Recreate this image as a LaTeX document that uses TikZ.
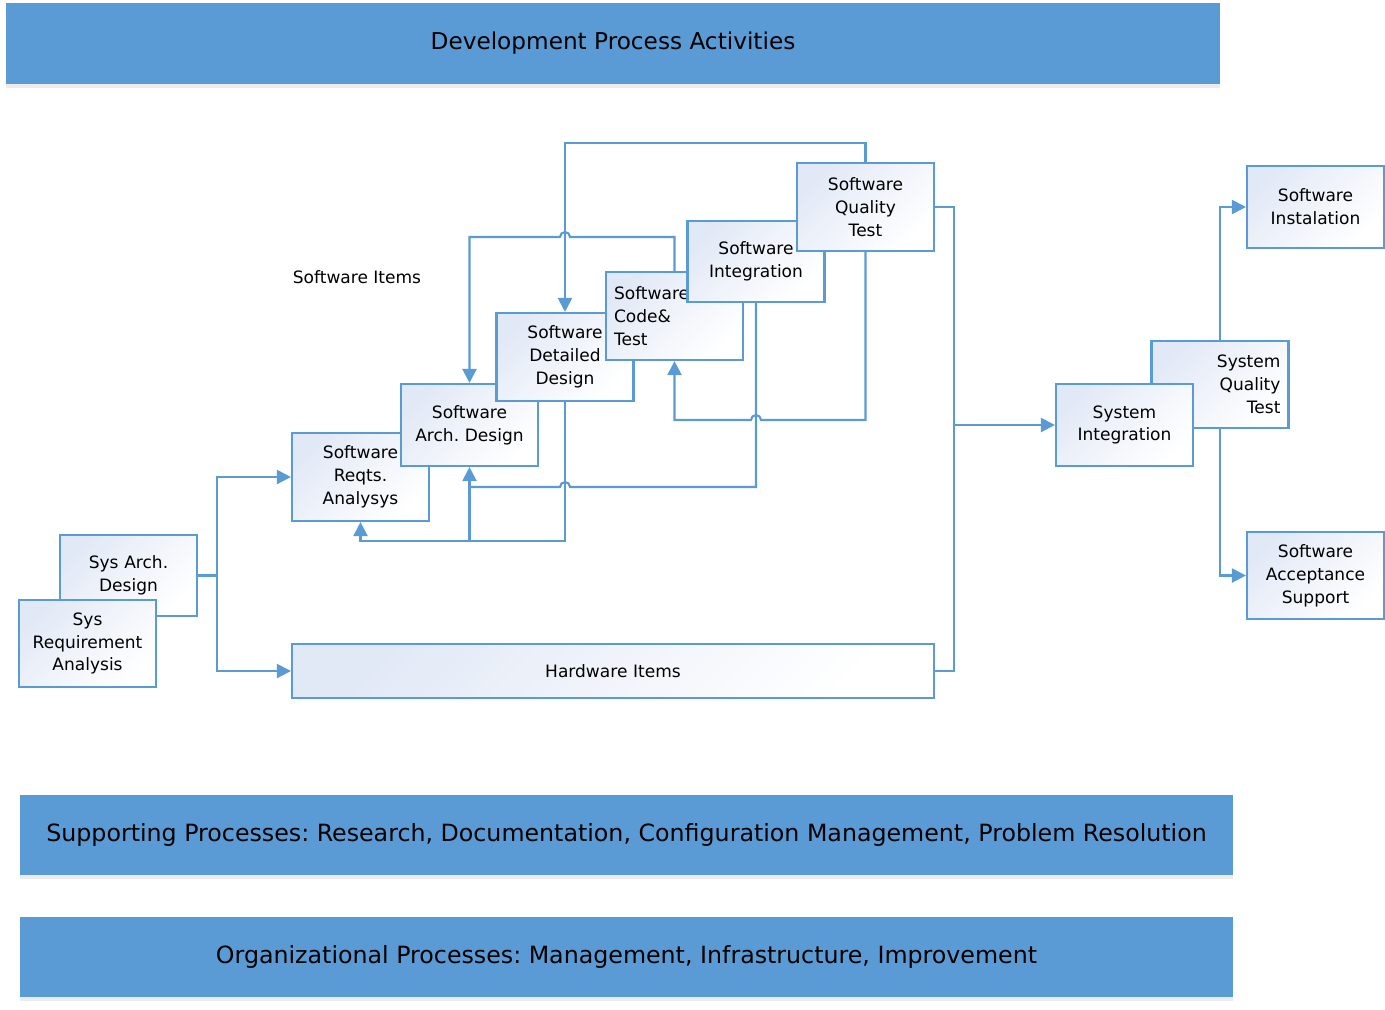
\documentclass[tikz,border=0pt]{standalone}
\usepackage{fontspec}
\setmainfont{DejaVu Sans}
\usetikzlibrary{arrows.meta}
\usetikzlibrary{shadows}
\definecolor{procblue}{HTML}{5B9BD5}
\definecolor{procshade}{HTML}{E2E9F6}
\tikzset{>={Triangle[length=8pt,width=8pt]}}
\frenchspacing

\begin{document}
\begin{tikzpicture}[x=0.02cm, y=-0.02cm,
		banner/.style={fill=procblue, minimum width=24.26cm, minimum height=1.6cm,
			drop shadow={opacity=0.15, shadow xshift=0pt, shadow yshift=-2.5pt}},
		proc/.style={draw=procblue, line width=1.2pt, shading=axis, top color=procshade,
			middle color=white, bottom color=white, shading angle=45, text width=2.42cm,
			inner xsep=0.16cm, inner ysep=0pt, align=center, font=\fontsize{9.7}{13}\selectfont},
		flow/.style={draw=procblue, line width=1.2pt, ->},
		link/.style={draw=procblue, line width=1.2pt}]
		\useasboundingbox (0,0) rectangle (1385,1009);

		% banners
		\node[banner, minimum width=24.28cm, minimum height=1.62cm] (devact) at (613,43.5)
			{\fontsize{13.2}{16}\selectfont Development Process Activities};
		\node[banner] (support) at (626.5,835)
			{\fontsize{13.5}{16}\selectfont Supporting Processes: Research, Documentation, Configuration Management, Problem Resolution};
		\node[banner] (organize) at (626.5,957)
			{\fontsize{13.5}{16}\selectfont Organizational Processes: Management, Infrastructure, Improvement};

		% system level
		\node[proc, minimum height=1.62cm] (sysad) at (128.5,575.5) {Sys Arch.\\ Design};
		\node[proc, minimum height=1.74cm] (sysra) at (87.5,643.5) {Sys\\ Requirement\\ Analysis};

		% software items, drawn back to front
		\node[font=\fontsize{9.7}{13}\selectfont] (switems) at (357,277) {Software Items};
		\node[proc, minimum height=1.76cm] (swra) at (360.5,477) {Software\\ Reqts.\\ Analysys};
		\node[proc, minimum height=1.64cm] (swad) at (469.5,425) {Software\\ Arch. Design};
		\node[proc, minimum height=1.76cm] (swdd) at (565,357) {Software\\ Detailed\\ Design};
		\node[proc, minimum height=1.76cm, align=left] (swct) at (674.5,316) {Software\\ Code\&\\ Test};
		\node[proc, minimum height=1.62cm] (swint) at (756,261.5) {Software\\ Integration};
		\node[proc, minimum height=1.76cm] (swqt) at (865.5,207) {Software\\ Quality\\ Test};

		\node[proc, text width=12.52cm, minimum height=1.08cm] (hw) at (613,671) {Hardware Items};

		% system integration and after
		\node[proc, minimum height=1.74cm, align=right] (sysqt) at (1220,384.5) {System\\ Quality\\ Test};
		\node[proc, minimum height=1.64cm] (sysint) at (1124.5,425) {System\\ Integration};
		\node[proc, minimum height=1.64cm] (swinst) at (1315.5,207) {Software\\ Instalation};
		\node[proc, minimum height=1.74cm] (swacc) at (1315.5,575.5) {Software\\ Acceptance\\ Support};

		% into software and hardware
		\coordinate (lbus) at (217,575.5);
		\draw[link] (sysad.east) -- (lbus);
		\draw[flow] (lbus) |- (swra.west);
		\draw[flow] (lbus) |- (hw.west);

		% feedback loops
		\draw[flow] (swqt.north) -- (swqt.north |- 0,143) -| (swdd.north);
		\draw[flow] (swct.north) -- (swct.north |- 0,237) -- (570,237)
			arc[start angle=0, end angle=180, radius=0.1cm] -- (swad.north |- 0,237) -- (swad.north);
		\draw[flow] (swqt.south) -- (swqt.south |- 0,420) -- (761,420)
			arc[start angle=0, end angle=180, radius=0.1cm] -- (swct.south |- 0,420) -- (swct.south);
		\coordinate (archjoin) at (469.5,487);
		\draw[link] (swint.south) -- (swint.south |- 0,487) -- (570,487)
			arc[start angle=0, end angle=180, radius=0.1cm] -- (archjoin);
		\draw[flow] (swdd.south) -- (swdd.south |- 0,541) -| (swra.south);
		\draw[flow] (swad.south |- 0,541) -- (swad.south);

		% out to system integration
		\coordinate (rbus) at (954,425);
		\draw[link] (swqt.east) -| (rbus);
		\draw[link] (hw.east) -| (rbus);
		\draw[flow] (rbus) -- (sysint.west);
		\draw[flow] (sysqt.north) |- (swinst.west);
		\draw[flow] (sysqt.south) |- (swacc.west);
	\end{tikzpicture}
\end{document}
